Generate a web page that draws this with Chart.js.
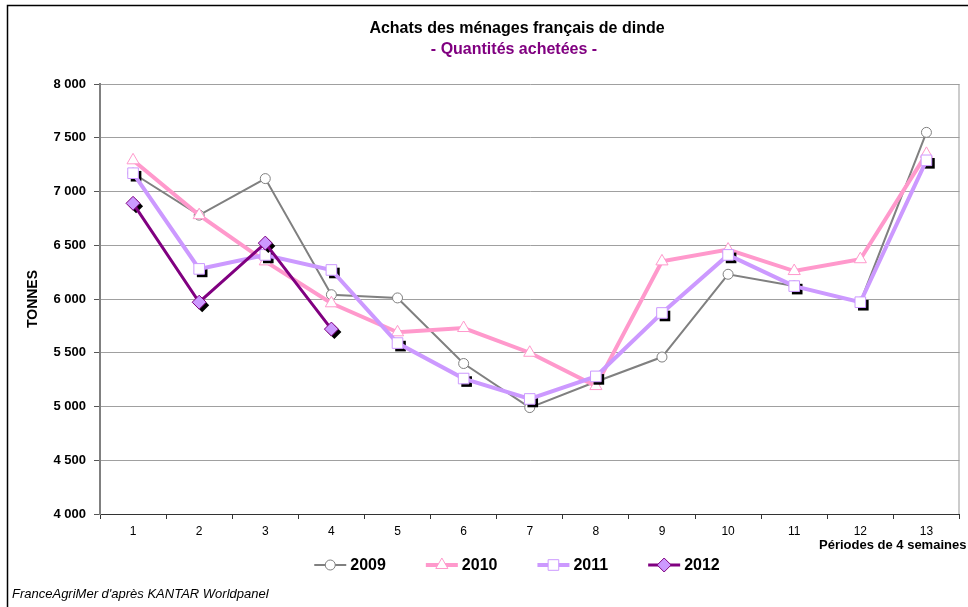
<!DOCTYPE html>
<html>
<head>
<meta charset="utf-8">
<script src="https://cdn.jsdelivr.net/npm/chart.js@4/dist/chart.umd.min.js"></script>
<style>
  html, body { margin: 0; padding: 0; background: #fff; }
  #wrap { width: 968px; height: 607px; }
</style>
</head>
<body>
<div id="wrap"><canvas id="achats"></canvas></div>
<script>
const periodes = ['1', '2', '3', '4', '5', '6', '7', '8', '9', '10', '11', '12', '13']
const annees = ['2009', '2010', '2011', '2012']

const t2009 = [7170, 6780, 7120, 6040, 6010, 5400, 4990, 5230, 5460, 6230, 6120, 5970, 7550]
const t2010 = [7290, 6780, 6350, 5960, 5690, 5730, 5500, 5190, 6350, 6460, 6260, 6370, 7350]
const t2011 = [7170, 6280, 6410, 6270, 5590, 5260, 5070, 5280, 5870, 6410, 6120, 5970, 7290]
const t2012 = [6890, 5970, 6520, 5720]

const titre = 'Achats des ménages français de dinde'
const sousTitre = '- Quantités achetées -'
const titreX = 'Périodes de 4 semaines'
const source = "FranceAgriMer d'après KANTAR Worldpanel"

const FONT = "'Liberation Sans', Arial, sans-serif"

// shapes used for legend markers and for the black shadows
function marker(ctx, style, x, y, r) {
    ctx.beginPath()
    if (style === 'circle') {
        ctx.arc(x, y, r, 0, Math.PI * 2)
    } else if (style === 'triangle') {
        for (let k = 0; k < 3; k++) {
            const a = k * 2 * Math.PI / 3
            const px = x + Math.sin(a) * r, py = y - Math.cos(a) * r
            k === 0 ? ctx.moveTo(px, py) : ctx.lineTo(px, py)
        }
    } else if (style === 'rect') {
        const s = r * Math.SQRT1_2
        ctx.rect(x - s, y - s, 2 * s, 2 * s)
    } else if (style === 'rectRot') {
        ctx.moveTo(x - r, y); ctx.lineTo(x, y - r); ctx.lineTo(x + r, y); ctx.lineTo(x, y + r)
    }
    ctx.closePath()
}

const decor = {
    id: 'decor',
    beforeDraw(chart) {
        const ctx = chart.ctx
        ctx.save()
        ctx.fillStyle = '#fff'
        ctx.fillRect(0, 0, chart.width, chart.height)
        ctx.strokeStyle = '#000'
        ctx.lineWidth = 1.5
        ctx.strokeRect(7.5, 5.5, 1000, 700)

        // titles
        ctx.textAlign = 'center'
        ctx.textBaseline = 'middle'
        ctx.font = 'bold 16px ' + FONT
        ctx.fillStyle = '#000'
        ctx.fillText(titre, 517, 29)
        ctx.fillStyle = '#800080'
        ctx.fillText(sousTitre, 514, 50)
        ctx.restore()
    },
    beforeDatasetDraw(chart, args) {
        const ds = chart.data.datasets[args.index]
        if (!ds.shadow) return
        const ctx = chart.ctx
        ctx.save()
        ctx.fillStyle = '#000'
        args.meta.data.forEach(pt => {
            if (pt.skip) return
            marker(ctx, ds.pointStyle, pt.x + 3, pt.y + 3, ds.pointRadius)
            ctx.fill()
        })
        ctx.restore()
    },
    afterDraw(chart) {
        const ctx = chart.ctx
        const a = chart.chartArea
        ctx.save()
        // right edge of plot area
        ctx.strokeStyle = '#999'
        ctx.lineWidth = 1
        ctx.beginPath()
        ctx.moveTo(a.right - 0.5, a.top)
        ctx.lineTo(a.right - 0.5, a.bottom)
        ctx.stroke()

        // x axis title, runs past the right edge like the original
        ctx.font = 'bold 13px ' + FONT
        ctx.fillStyle = '#000'
        ctx.textBaseline = 'middle'
        ctx.textAlign = 'left'
        ctx.fillText(titreX, 819, 545)

        // legend
        ctx.font = 'bold 16px ' + FONT
        const lineLen = 32, gap = 4, itemGap = 40
        const items = chart.data.datasets.map(ds => ({ ds, w: lineLen + gap + ctx.measureText(ds.label).width }))
        const total = items.reduce((s, it) => s + it.w, 0) + itemGap * (items.length - 1)
        let x = 517 - total / 2
        const y = 565
        items.forEach(it => {
            const ds = it.ds
            ctx.strokeStyle = ds.borderColor
            ctx.lineWidth = ds.borderWidth
            ctx.beginPath()
            ctx.moveTo(x, y)
            ctx.lineTo(x + lineLen, y)
            ctx.stroke()
            marker(ctx, ds.pointStyle, x + lineLen / 2, y, ds.pointRadius)
            ctx.fillStyle = ds.pointBackgroundColor
            ctx.fill()
            ctx.strokeStyle = ds.pointBorderColor
            ctx.lineWidth = 1
            ctx.stroke()
            ctx.fillStyle = '#000'
            ctx.fillText(ds.label, x + lineLen + gap, y + 1)
            x += it.w + itemGap
        })

        // source
        ctx.font = 'italic 13px ' + FONT
        ctx.fillText(source, 12, 594)
        ctx.restore()
    }
}

const ctx = document.getElementById('achats').getContext('2d')

const chart = new Chart(ctx, {
    type: 'line',
    data: {
        labels: periodes,
        datasets: [{
            label: annees[0],
            data: t2009,
            borderColor: '#808080',
            borderWidth: 2,
            pointStyle: 'circle',
            pointRadius: 5,
            pointBackgroundColor: '#fff',
            pointBorderColor: '#808080',
            pointBorderWidth: 1,
            order: 4
        }, {
            label: annees[1],
            data: t2010,
            borderColor: '#ff99cc',
            borderWidth: 4,
            pointStyle: 'triangle',
            pointRadius: 7,
            pointBackgroundColor: '#fff',
            pointBorderColor: '#ff99cc',
            pointBorderWidth: 1,
            order: 3
        }, {
            label: annees[2],
            data: t2011,
            borderColor: '#cc99ff',
            borderWidth: 4,
            pointStyle: 'rect',
            pointRadius: 7.5,
            pointBackgroundColor: '#fff',
            pointBorderColor: '#cc99ff',
            pointBorderWidth: 1,
            shadow: true,
            order: 2
        }, {
            label: annees[3],
            data: t2012,
            borderColor: '#800080',
            borderWidth: 3,
            pointStyle: 'rectRot',
            pointRadius: 7,
            pointBackgroundColor: '#cc99ff',
            pointBorderColor: '#800080',
            pointBorderWidth: 1,
            shadow: true,
            order: 1
        }]
    },
    options: {
        responsive: true,
        maintainAspectRatio: false,
        animation: false,
        layout: { padding: { top: 84, left: 8, right: 3, bottom: 53 } },
        elements: { line: { tension: 0 } },
        plugins: {
            legend: { display: false },
            tooltip: { enabled: false },
            title: { display: false }
        },
        scales: {
            x: {
                offset: true,
                grid: { offset: true, drawOnChartArea: false, drawTicks: true, tickLength: 5, color: '#333' },
                border: { color: '#333', width: 1 },
                ticks: { color: '#000', font: { family: FONT, size: 12 }, padding: 5, maxRotation: 0 },
                afterFit(scale) { scale.height = 40 }
            },
            y: {
                min: 4000,
                max: 8000,
                grid: { color: '#a0a0a0', tickLength: 6, tickColor: '#555' },
                border: { color: '#808080', width: 2 },
                ticks: {
                    stepSize: 500,
                    color: '#000',
                    padding: 8,
                    font: { family: FONT, size: 13, weight: 'bold' },
                    callback: v => String(v).replace(/\B(?=(\d{3})+(?!\d))/g, ' ')
                },
                title: {
                    display: true,
                    text: 'TONNES',
                    color: '#000',
                    font: { family: FONT, size: 14, weight: 'bold' },
                    padding: { top: 16.6, bottom: 0 }
                },
                afterFit(scale) { scale.width = 92 }
            }
        }
    },
    plugins: [decor]
});
</script>
</body>
</html>
